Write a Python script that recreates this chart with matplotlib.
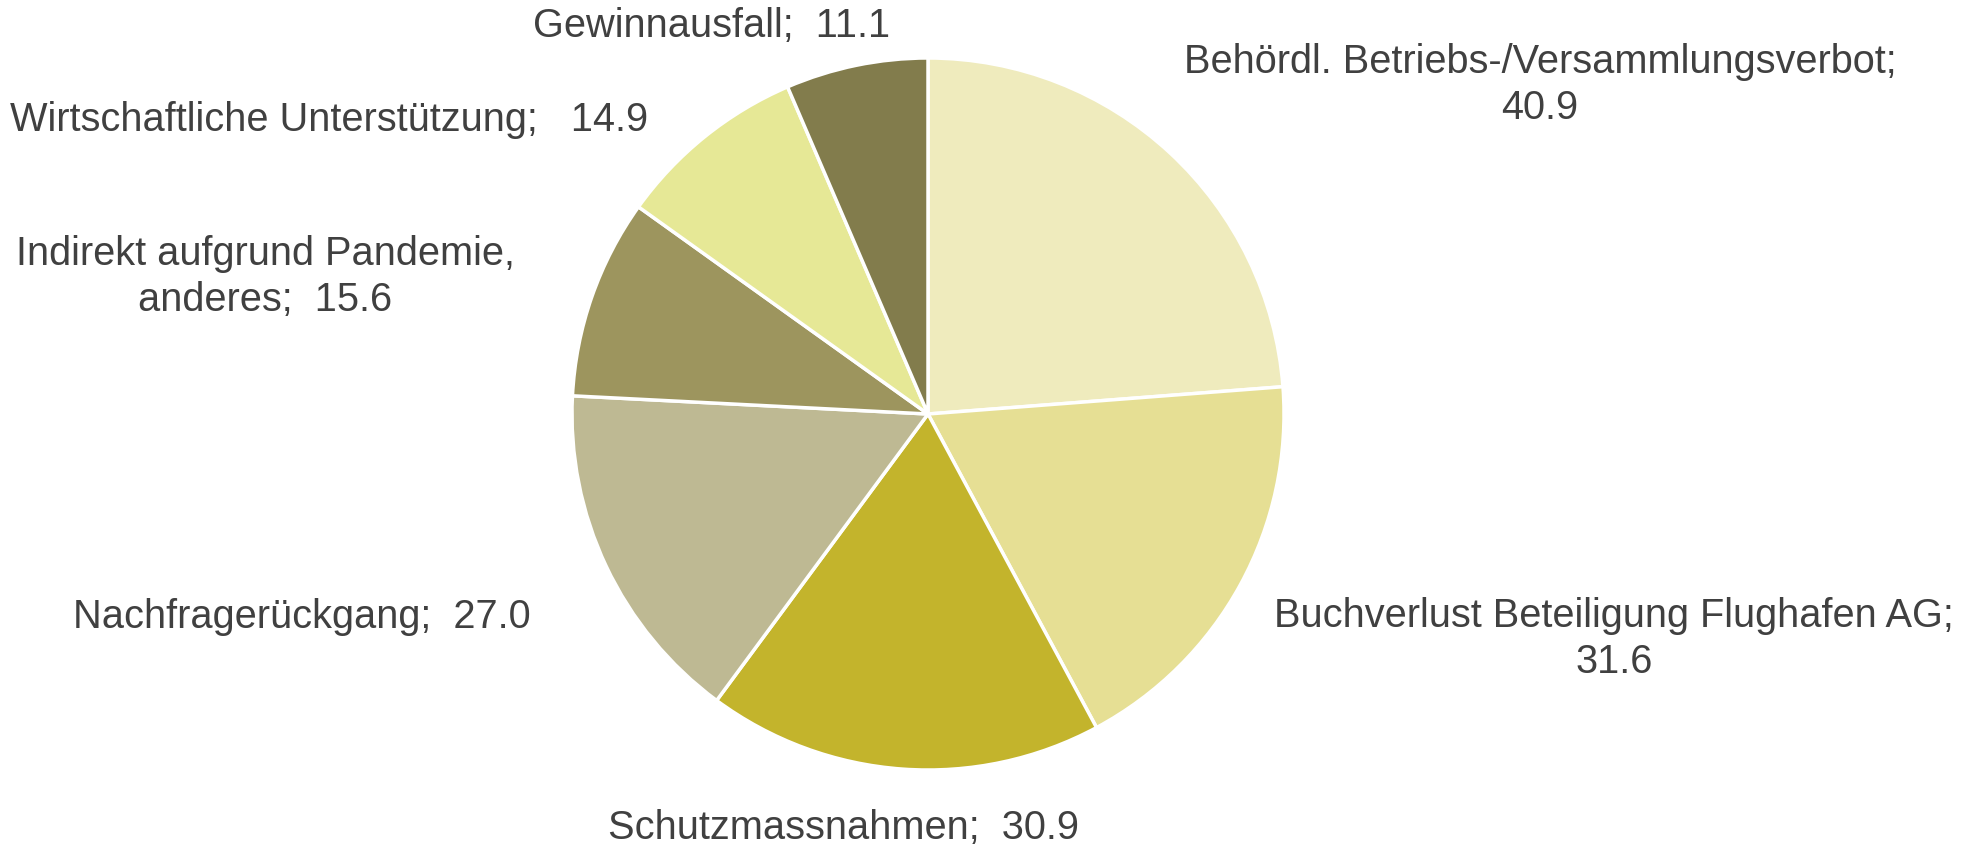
import matplotlib

matplotlib.use("Agg")
import matplotlib.pyplot as plt

plt.rcParams["font.family"] = ["Liberation Sans", "DejaVu Sans"]

# slices clockwise from 12 o'clock
labels = [
    "Behördl. Betriebs-/Versammlungsverbot;\n40.9",
    "Buchverlust Beteiligung Flughafen AG;\n31.6",
    "Schutzmassnahmen;  30.9",
    "Nachfragerückgang;  27.0",
    "Indirekt aufgrund Pandemie,\nanderes;  15.6",
    "Wirtschaftliche Unterstützung;   14.9",
    "Gewinnausfall;  11.1",
]
values = [40.9, 31.6, 30.9, 27.0, 15.6, 14.9, 11.1]
colors = ["#EFEBBD", "#E6DF94", "#C3B42C", "#BEB993", "#9D955E", "#E6E896", "#827C4C"]

# label centres in figure pixels (x from left, y from top)
label_px = [(1540, 85), (1614, 639), (844, 828), (302, 617), (265, 277), (329, 120), (712, 26)]

W, H = 1964, 846
fig = plt.figure(figsize=(W / 100, H / 100), dpi=100)

cx, cy, r = 928, 414, 356  # pie centre / radius in pixels
ax = fig.add_axes([(cx - r) / W, (H - cy - r) / H, 2 * r / W, 2 * r / H])
ax.pie(
    values, colors=colors, startangle=90, counterclock=False, radius=1.0,
    wedgeprops={"edgecolor": "white", "linewidth": 2.5},
)
ax.set_xlim(-1, 1)
ax.set_ylim(-1, 1)
ax.set_aspect("equal")
ax.axis("off")

for text, (x, y) in zip(labels, label_px):
    fig.text(x / W, 1 - y / H, text, ha="center", va="center", fontsize=28.6,
             color="#404040", linespacing=1.25)

fig.savefig("out.png", dpi=100, facecolor="white")
